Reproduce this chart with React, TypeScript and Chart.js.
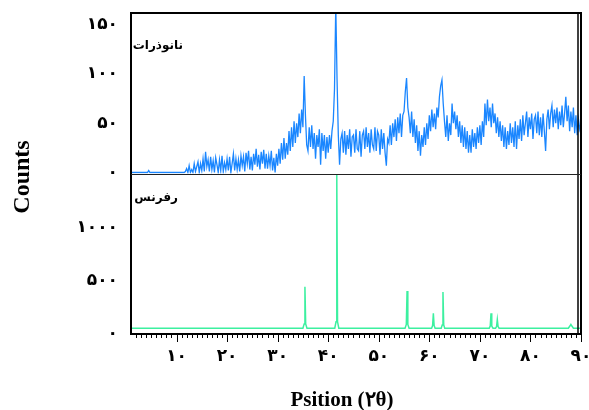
import React, { useEffect, useRef } from 'react';
import { Chart, registerables } from 'chart.js';

Chart.register(...registerables);

// Scan grid of the nanoparticle pattern (2θ, degrees)
const SCAN_START = 1;
const SCAN_STEP = 0.25;

// Nanoparticle counts, one value per scan step
const NANO_COUNTS = [
  0, 0, 0, 0, 0, 0, 0, 0, 0, 0, 0, 0, 0, 0, 2, 0, // 1-4
  0, 0, 0, 0, 0, 0, 0, 0, 0, 0, 0, 0, 0, 0, 0, 0, // 5-8
  0, 0, 0, 0, 0, 0, 0, 0, 0, 0, 0, 1, // 9-11
  4, 0, 7, 0, 3, 0, 9, 1, 6, 11, 0, 9, 2, 14, 1, 21, // 12-15
  6, 13, 1, 16, 3, 12, 0, 15, 8, 0, 13, 2, 17, 1, 10, 3, // 16-19
  14, 2, 16, 0, 9, 19, 2, 14, 3, 13, 1, 17, 7, 16, 1, 20, // 20-23
  9, 22, 3, 16, 2, 19, 8, 24, 6, 18, 3, 21, 9, 23, 4, 19, // 24-27
  4, 17, 7, 22, 2, 15, 0, 19, 7, 24, 9, 30, 13, 35, 14, 30, // 28-31
  18, 42, 22, 46, 26, 52, 30, 50, 36, 60, 40, 64, 46, 98, 58, 28, // 32-35
  22, 46, 26, 48, 24, 40, 14, 38, 26, 44, 8, 40, 22, 38, 14, 36, // 36-39
  20, 38, 24, 42, 52, 85, 170, 95, 38, 8, 34, 40, 20, 42, 18, 38, // 40-43
  24, 44, 16, 36, 38, 20, 44, 24, 22, 42, 16, 38, 42, 24, 46, 26, // 44-47
  40, 20, 44, 28, 24, 46, 22, 42, 38, 18, 44, 24, 40, 20, 7, 34, // 48-51
  30, 48, 28, 50, 36, 54, 32, 56, 40, 60, 36, 58, 62, 82, 96, 66, // 52-55
  56, 40, 62, 36, 54, 30, 48, 22, 42, 17, 38, 26, 46, 28, 50, 34, // 56-59
  58, 42, 64, 46, 60, 44, 66, 56, 77, 88, 94, 70, 52, 36, 58, 32, // 60-63
  50, 38, 70, 50, 62, 44, 58, 36, 52, 30, 48, 26, 46, 24, 42, 20, // 64-67
  38, 20, 44, 26, 40, 24, 46, 30, 48, 28, 52, 36, 70, 48, 74, 52, // 68-71
  66, 46, 70, 50, 60, 40, 56, 36, 52, 32, 48, 26, 46, 24, 42, 28, // 72-75
  50, 30, 46, 26, 52, 24, 48, 34, 54, 32, 58, 38, 50, 62, 36, 56, // 76-79
  44, 60, 34, 54, 58, 40, 62, 38, 56, 36, 60, 42, 22, 54, 64, 44, // 80-83
  60, 68, 46, 64, 50, 66, 44, 62, 48, 68, 46, 60, 77, 52, 68, 42, // 84-87
  62, 46, 66, 40, 58, 38, 54, 44, 50, // 88-90
];

// Reference pattern vertices (2θ and counts)
const REF_POS = [
  1, 35.0, 35.25, 35.4, 35.55, 35.8,
  41.3, 41.55, 41.7, 41.85, 42.1,
  55.2, 55.45, 55.6, 55.75, 56.0,
  60.45, 60.65, 60.8, 60.95, 61.15,
  62.35, 62.55, 62.7, 62.85, 63.05,
  71.85, 72.05, 72.2, 72.35, 72.6,
  73.1, 73.3, 73.45, 73.6, 73.8,
  87.5, 87.8, 88.0, 88.2, 88.5,
  90,
];
const REF_COUNTS = [
  50, 50, 90, 440, 90, 50,
  50, 110, 1500, 110, 50,
  50, 85, 400, 85, 50,
  50, 75, 190, 75, 50,
  50, 80, 390, 80, 50,
  50, 70, 190, 70, 50,
  50, 65, 130, 65, 50,
  50, 70, 85, 70, 50,
  50,
];

const X_TICKS = [10, 20, 30, 40, 50, 60, 70, 80, 90];
const X_TICK_LABELS = ['۱۰', '۲۰', '۳۰', '۴۰', '۵۰', '۶۰', '۷۰', '۸۰', '۹۰'];
const TOP_TICKS = [0, 50, 100, 150];
const TOP_TICK_LABELS = ['۰', '۵۰', '۱۰۰', '۱۵۰'];
const BOTTOM_TICKS = [0, 500, 1000];
const BOTTOM_TICK_LABELS = ['۰', '۵۰۰', '۱۰۰۰'];

const NANO_LABEL = 'نانوذرات';
const REF_LABEL = 'رفرنس';
const Y_TITLE = 'Counts';
const X_TITLE = 'Psition (۲θ)';

const BLUE = '#1a86ff';
const GREEN = '#3cf0a0';

const TICK_FONT = { family: 'DejaVu Sans', weight: 'bold' as const, size: 17 };

function labelFrom(ticks: number[], labels: string[]) {
  return (value: number | string) => {
    const i = ticks.indexOf(Number(value));
    return i >= 0 ? labels[i] : '';
  };
}

function noPadding(s: any) {
  s.paddingTop = 0;
  s.paddingBottom = 0;
  s.paddingLeft = 0;
  s.paddingRight = 0;
}

const framePlugin = {
  id: 'frame',
  afterDraw(chart: any) {
    const { ctx, chartArea } = chart;
    const { left, right, top, bottom } = chartArea;
    const xs = chart.scales.x;
    const yTop = chart.scales.yTop;
    const yBottom = chart.scales.yBottom;
    ctx.save();
    ctx.strokeStyle = '#000';
    ctx.lineWidth = 2;
    ctx.strokeRect(left, top, right - left, bottom - top);
    // right double edge
    ctx.beginPath();
    ctx.moveTo(right - 3, top);
    ctx.lineTo(right - 3, bottom);
    ctx.lineWidth = 1.5;
    ctx.stroke();
    // divider between panels
    ctx.beginPath();
    ctx.lineWidth = 1.2;
    ctx.strokeStyle = '#222';
    const divY = Math.round(yTop.bottom) + 0.5;
    ctx.moveTo(left, divY);
    ctx.lineTo(right, divY);
    ctx.stroke();
    // x tick marks
    ctx.strokeStyle = '#000';
    ctx.lineWidth = 1;
    for (let v = Math.ceil(xs.min) + 1; v <= xs.max; v++) {
      const px = Math.round(xs.getPixelForValue(v)) + 0.5;
      const len = v % 10 === 0 ? 8 : 4;
      ctx.beginPath();
      ctx.moveTo(px, bottom);
      ctx.lineTo(px, bottom + len);
      ctx.stroke();
    }
    // panel labels
    ctx.fillStyle = '#000';
    ctx.font = 'bold 12px "DejaVu Sans"';
    ctx.textBaseline = 'middle';
    ctx.textAlign = 'right';
    ctx.fillText(NANO_LABEL, left + 52, yTop.top + 33);
    ctx.fillText(REF_LABEL, left + 47, yBottom.top + 24);
    // axis titles
    ctx.textAlign = 'center';
    ctx.font = 'bold 21px "Liberation Serif"';
    ctx.fillText(X_TITLE, 342, 401);
    ctx.font = 'bold 24px "Liberation Serif"';
    ctx.save();
    ctx.translate(23, 177);
    ctx.rotate(-Math.PI / 2);
    ctx.fillText(Y_TITLE, 0, 0);
    ctx.restore();
    ctx.restore();
  },
};

export default function App() {
  const ref = useRef<HTMLCanvasElement | null>(null);

  useEffect(() => {
    const canvas = ref.current;
    if (!canvas) return;
    const nanoPoints = NANO_COUNTS.map((y, i) => ({ x: SCAN_START + i * SCAN_STEP, y }));
    const refPoints = REF_POS.map((x, i) => ({ x, y: REF_COUNTS[i] }));

    const yCommon = {
      type: 'linear' as const,
      position: 'left' as const,
      stack: 'panels',
      stackWeight: 1,
      grid: { display: false, drawTicks: false },
      border: { display: false },
      afterFit: (s: any) => {
        s.width = 131;
        noPadding(s);
      },
    };

    const chart = new Chart(canvas, {
      type: 'line',
      data: {
        datasets: [
          {
            label: NANO_LABEL,
            data: nanoPoints,
            yAxisID: 'yTop',
            borderColor: BLUE,
            borderWidth: 1.3,
            pointRadius: 0,
            tension: 0,
          },
          {
            label: REF_LABEL,
            data: refPoints,
            yAxisID: 'yBottom',
            borderColor: GREEN,
            borderWidth: 1.5,
            pointRadius: 0,
            tension: 0,
          },
        ],
      },
      options: {
        responsive: false,
        animation: false,
        layout: { padding: { left: 0, right: 8, top: 13, bottom: 0 } },
        plugins: { legend: { display: false }, tooltip: { enabled: false } },
        scales: {
          x: {
            type: 'linear',
            min: 1,
            max: 90,
            grid: { display: false, drawTicks: false },
            border: { display: false },
            ticks: {
              padding: 12,
              color: '#000',
              font: TICK_FONT,
              autoSkip: false,
              maxRotation: 0,
              callback: labelFrom(X_TICKS, X_TICK_LABELS),
            },
            afterBuildTicks: (s: any) => {
              s.ticks = X_TICKS.map((value) => ({ value }));
            },
            afterFit: (s: any) => {
              s.height = 76;
              noPadding(s);
            },
          },
          yBottom: {
            ...yCommon,
            min: -5,
            max: 1505,
            ticks: {
              padding: 13,
              color: '#000',
              font: TICK_FONT,
              callback: labelFrom(BOTTOM_TICKS, BOTTOM_TICK_LABELS),
            },
            afterBuildTicks: (s: any) => {
              s.ticks = BOTTOM_TICKS.map((value) => ({ value }));
            },
          },
          yTop: {
            ...yCommon,
            min: -1,
            max: 162,
            ticks: {
              padding: 13,
              color: '#000',
              font: TICK_FONT,
              callback: labelFrom(TOP_TICKS, TOP_TICK_LABELS),
            },
            afterBuildTicks: (s: any) => {
              s.ticks = TOP_TICKS.map((value) => ({ value }));
            },
          },
        },
      },
      plugins: [framePlugin],
    } as any);

    return () => chart.destroy();
  }, []);

  return (
    <canvas
      ref={ref}
      width={589}
      height={410}
      style={{ position: 'fixed', left: 0, top: 0, width: 589, height: 410, background: '#fff' }}
    />
  );
}
